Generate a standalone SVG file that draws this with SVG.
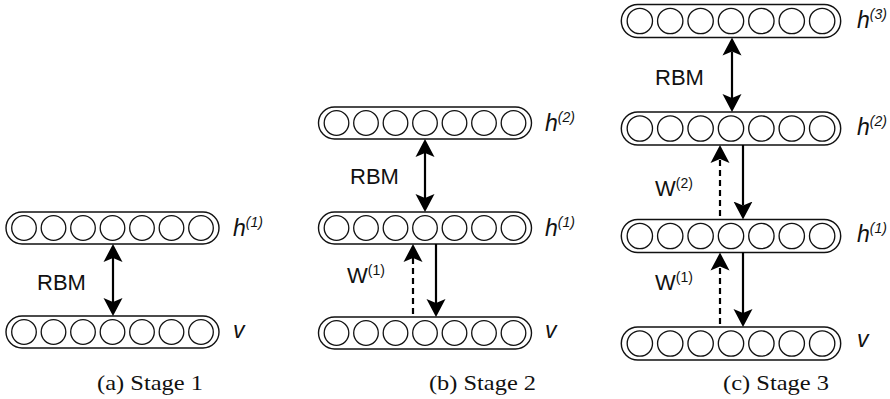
<svg xmlns="http://www.w3.org/2000/svg" xmlns:xlink="http://www.w3.org/1999/xlink" width="890" height="399" viewBox="0 0 890 399">
<style>
.bg{fill:#ffffff}
.lr{fill:#ffffff;stroke:#111;stroke-width:1.4}
.lc{fill:#ffffff;stroke:#111;stroke-width:1.3}
.conn line{stroke:#000;stroke-width:2.2;fill:none}
.conn .dash{stroke-dasharray:6 4}
.lbl{font-family:"Liberation Sans",Arial,sans-serif;font-size:22px;fill:#111}
.var{font-family:"Liberation Sans",Arial,sans-serif;font-size:23px;font-style:italic;fill:#111}
.sup{font-size:14px}
.cap{font-family:"Liberation Serif","Times New Roman",serif;font-size:22px;fill:#111}
</style>
<defs>
<marker id="ah" viewBox="0 -10 18 20" refX="4" refY="0" markerWidth="18" markerHeight="20" markerUnits="userSpaceOnUse" orient="auto-start-reverse">
<path d="M0,-9.5 L18,0 L0,9.5 L4,0 Z" fill="#000"/>
</marker>
<g id="layer" fill="#ffffff" stroke="#111" stroke-width="1.3">
<rect class="lr" x="-106.5" y="-16" width="213" height="32" rx="16"/>
<circle class="lc" cx="-88.5" cy="0" r="12.3"/>
<circle class="lc" cx="-59" cy="0" r="12.3"/>
<circle class="lc" cx="-29.5" cy="0" r="12.3"/>
<circle class="lc" cx="0" cy="0" r="12.3"/>
<circle class="lc" cx="29.5" cy="0" r="12.3"/>
<circle class="lc" cx="59" cy="0" r="12.3"/>
<circle class="lc" cx="88.5" cy="0" r="12.3"/>
</g>
</defs>
<rect class="bg" x="0" y="0" width="890" height="399"/>

<!-- Stage 1 -->
<g id="s1-h1"><use xlink:href="#layer" transform="translate(112.5,228)"/></g>
<g id="s1-v"><use xlink:href="#layer" transform="translate(112.5,332)"/></g>

<!-- Stage 2 -->
<g id="s2-h2"><use xlink:href="#layer" transform="translate(425,123)"/></g>
<g id="s2-h1"><use xlink:href="#layer" transform="translate(425,228)"/></g>
<g id="s2-v"><use xlink:href="#layer" transform="translate(425,333)"/></g>

<!-- Stage 3 -->
<g id="s3-h3"><use xlink:href="#layer" transform="translate(731,21) scale(1.03)"/></g>
<g id="s3-h2"><use xlink:href="#layer" transform="translate(731,128.5) scale(1.03)"/></g>
<g id="s3-h1"><use xlink:href="#layer" transform="translate(731,236) scale(1.03)"/></g>
<g id="s3-v"><use xlink:href="#layer" transform="translate(731,343.5) scale(1.03)"/></g>

<g id="connectors" class="conn">
<line x1="113" y1="258" x2="113" y2="302" marker-start="url(#ah)" marker-end="url(#ah)"/>
<line x1="425" y1="153" x2="425" y2="198" marker-start="url(#ah)" marker-end="url(#ah)"/>
<line class="dash" x1="413" y1="314" x2="413" y2="258" marker-end="url(#ah)"/>
<line x1="436" y1="244" x2="436" y2="303" marker-end="url(#ah)"/>
<line x1="732" y1="51.5" x2="732" y2="98" marker-start="url(#ah)" marker-end="url(#ah)"/>
<line class="dash" x1="720" y1="216" x2="720" y2="159" marker-end="url(#ah)"/>
<line x1="743" y1="145" x2="743" y2="205.5" marker-end="url(#ah)"/>
<line class="dash" x1="720" y1="324" x2="720" y2="266.5" marker-end="url(#ah)"/>
<line x1="743" y1="252.5" x2="743" y2="313" marker-end="url(#ah)"/>
</g>

<g id="labels">
<text class="lbl" x="37" y="290">RBM</text>
<text class="lbl" x="350" y="184">RBM</text>
<text class="lbl" x="655" y="85">RBM</text>
<text class="lbl" x="347" y="283">W<tspan font-size="14" dy="-8">(1)</tspan></text>
<text class="lbl" x="655" y="196">W<tspan font-size="14" dy="-8">(2)</tspan></text>
<text class="lbl" x="655" y="290">W<tspan font-size="14" dy="-8">(1)</tspan></text>

<text class="var" x="233" y="236">h<tspan class="sup" dy="-9">(1)</tspan></text>
<text class="var" x="233" y="338">v</text>
<text class="var" x="545" y="131">h<tspan class="sup" dy="-9">(2)</tspan></text>
<text class="var" x="545" y="236">h<tspan class="sup" dy="-9">(1)</tspan></text>
<text class="var" x="545" y="338">v</text>
<text class="var" x="857" y="28">h<tspan class="sup" dy="-9">(3)</tspan></text>
<text class="var" x="857" y="135">h<tspan class="sup" dy="-9">(2)</tspan></text>
<text class="var" x="857" y="242">h<tspan class="sup" dy="-9">(1)</tspan></text>
<text class="var" x="857" y="347">v</text>

<text class="cap" x="97" y="390" textLength="106" lengthAdjust="spacingAndGlyphs">(a) Stage 1</text>
<text class="cap" x="429" y="390" textLength="107" lengthAdjust="spacingAndGlyphs">(b) Stage 2</text>
<text class="cap" x="723" y="390" textLength="106" lengthAdjust="spacingAndGlyphs">(c) Stage 3</text>
</g>
</svg>
